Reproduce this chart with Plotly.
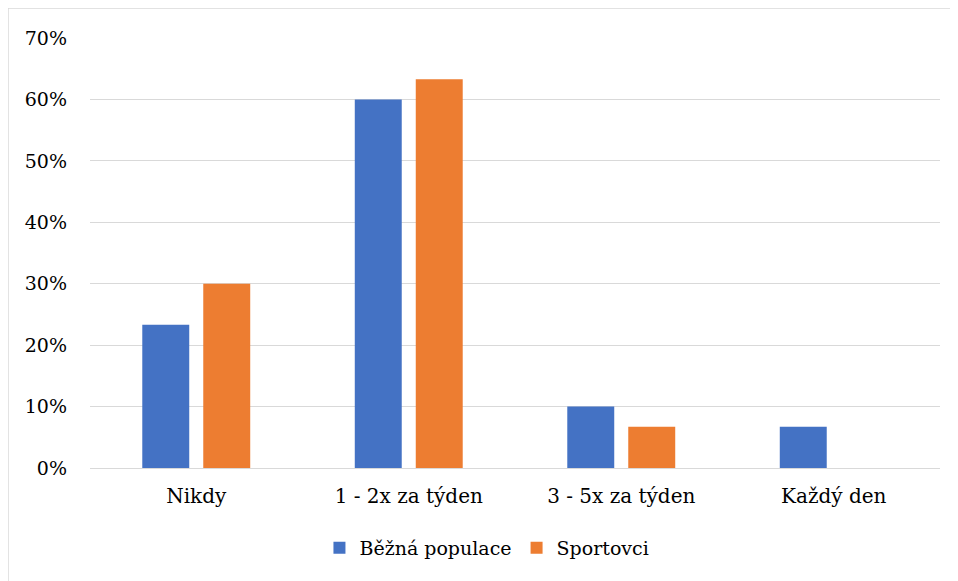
import plotly.graph_objects as go

categories = ["Nikdy", "1 - 2x za týden", "3 - 5x za týden", "Každý den"]
bezna_populace = [0.233, 0.60, 0.10, 0.067]
sportovci = [0.30, 0.633, 0.067, 0.0]
series_names = ["Běžná populace", "Sportovci"]

FONT = "DejaVu Serif"

fig = go.Figure()
fig.add_trace(go.Bar(x=categories, y=bezna_populace, name=series_names[0],
                     marker=dict(color="#4472C4", line=dict(width=0))))
fig.add_trace(go.Bar(x=categories, y=sportovci, name=series_names[1],
                     marker=dict(color="#ED7D31", line=dict(width=0))))

fig.update_layout(
    width=958, height=581,
    margin=dict(l=82, r=26, t=30, b=121),
    paper_bgcolor="white", plot_bgcolor="white",
    font=dict(family=FONT, size=19, color="#000000"),
    barmode="group", bargap=0.426, bargroupgap=0.23,
    showlegend=True,
    legend=dict(orientation="h", x=0.467, xanchor="center", y=-0.186, yanchor="middle",
                font=dict(family=FONT, size=19), itemwidth=30, traceorder="normal"),
    xaxis=dict(showgrid=False, showline=True, linecolor="#D9D9D9", linewidth=1,
               ticks="", ticklabelstandoff=10, tickfont=dict(family=FONT, size=20)),
    yaxis=dict(range=[0, 0.7], dtick=0.1, tickformat=".0%", showgrid=True,
               gridcolor="#D9D9D9", gridwidth=1, zeroline=False, showline=False,
               ticks="", ticklabelstandoff=22, tickfont=dict(family=FONT, size=19)),
    shapes=[dict(type="rect", xref="paper", yref="paper",
                 x0=-0.0965, x1=1.2, y0=-0.5, y1=1.0698,
                 line=dict(color="#D9D9D9", width=1.5), fillcolor="rgba(0,0,0,0)", layer="below")],
)

fig.write_html("out.html")
